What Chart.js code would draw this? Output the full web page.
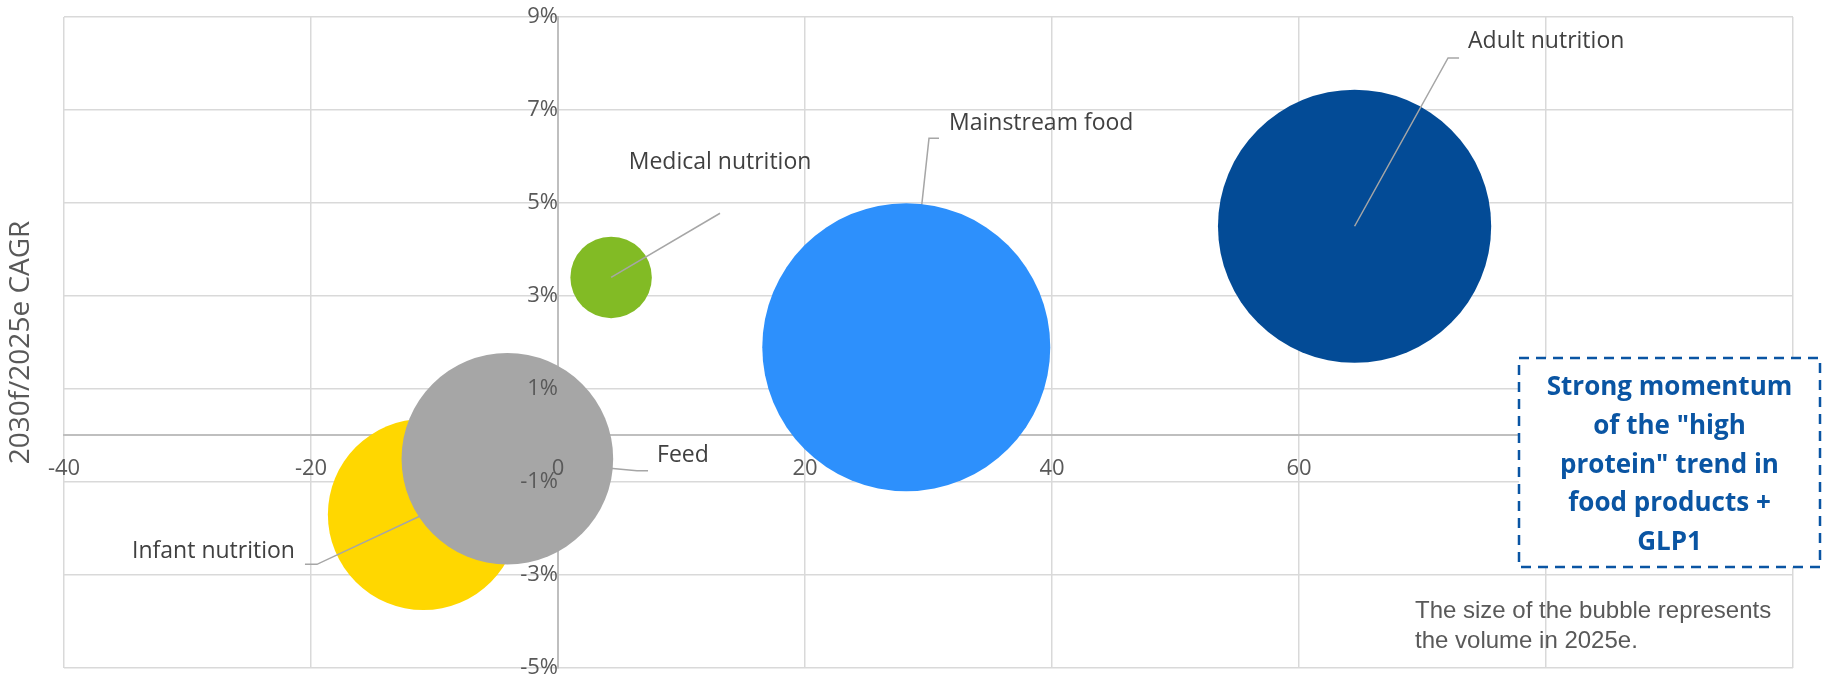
<!DOCTYPE html>
<html>
<head>
<meta charset="utf-8">
<title>2030f/2025e CAGR by segment</title>
<script src="https://cdn.jsdelivr.net/npm/chart.js@4.4.1/dist/chart.umd.min.js"></script>
<style>
  html, body { margin: 0; padding: 0; background: #fff; }
  #wrap { width: 1825px; height: 681px; position: relative; }
</style>
</head>
<body>
<div id="wrap"><canvas id="bubbleChart"></canvas></div>
<script>
// data
const categories = ["Adult nutrition", "Mainstream food", "Medical nutrition", "Feed", "Infant nutrition"];
const xValues = [64.5, 28.2, 4.3, -4.1, -10.9];
const cagrPct = [4.5, 1.9, 3.4, -0.5, -1.7];
const volume2025e = [90, 100, 8, 54, 44]; // relative, bubble area
const colors = ["#034b96", "#2d90fc", "#82bb25", "#a6a6a6", "#ffd700"];

const xTickValues = [-40, -20, 0, 20, 40, 60, 80, 100];
const yTickValues = [-5, -3, -1, 1, 3, 5, 7, 9];

const noteLines = ["Strong momentum", "of the \"high", "protein\" trend in", "food products +", "GLP1"];
const footnoteLines = ["The size of the bubble represents", "the volume in 2025e."];
const yTitle = "2030f/2025e CAGR";

const MAX_RADIUS = 144;

// leader line start (in data units) and how the label text sits next to it
const labelAnchors = [
  { x: 72.96, y: 8.12, elbow: -11, align: "left", dx: 9, dy: -16, over: true },
  { x: 30.85, y: 6.39, elbow: -10, align: "left", dx: 10, dy: -15, over: false },
  { x: 13.12, y: 4.78, elbow: 0, align: "center", dx: 0, dy: -51, over: true },
  { x: 7.29, y: -0.76, elbow: -11, align: "left", dx: 9, dy: -15, over: false },
  { x: -20.49, y: -2.77, elbow: 12, align: "right", dx: -10, dy: -13, over: true },
];

const maxVolume = Math.max(...volume2025e);

const datasets = categories.map((name, i) => ({
  label: name,
  data: [{ x: xValues[i], y: cagrPct[i], r: MAX_RADIUS * Math.sqrt(volume2025e[i] / maxVolume) }],
  backgroundColor: colors[i],
  borderWidth: 0,
  hoverBorderWidth: 0,
}));

function drawLeader(chart, index, meta) {
  const ctx = chart.ctx;
  const a = labelAnchors[index];
  const pt = meta.data[0];
  const sx = chart.scales.x.getPixelForValue(a.x);
  const sy = chart.scales.y.getPixelForValue(a.y);
  ctx.save();
  ctx.strokeStyle = "#a6a6a6";
  ctx.lineWidth = 1.5;
  ctx.beginPath();
  ctx.moveTo(sx, sy);
  ctx.lineTo(sx + a.elbow, sy);
  ctx.lineTo(pt.x, pt.y);
  ctx.stroke();
  ctx.restore();
}

const annotations = {
  id: "annotations",
  beforeDatasetDraw(chart, args) {
    if (!labelAnchors[args.index].over) drawLeader(chart, args.index, args.meta);
  },
  afterDatasetDraw(chart, args) {
    if (labelAnchors[args.index].over) drawLeader(chart, args.index, args.meta);
  },
  afterDraw(chart) {
    const ctx = chart.ctx;
    const xs = chart.scales.x;
    const ys = chart.scales.y;
    ctx.save();

    // point labels
    ctx.fillStyle = "#404040";
    ctx.font = "23px 'Open Sans'";
    ctx.textBaseline = "middle";
    categories.forEach((name, i) => {
      const a = labelAnchors[i];
      ctx.textAlign = a.align;
      ctx.fillText(name, xs.getPixelForValue(a.x) + a.dx, ys.getPixelForValue(a.y) + a.dy);
    });

    // y axis title
    ctx.save();
    ctx.translate(21, (chart.chartArea.top + chart.chartArea.bottom) / 2);
    ctx.rotate(-Math.PI / 2);
    ctx.textAlign = "center";
    ctx.fillStyle = "#595959";
    ctx.font = "28px 'Open Sans'";
    ctx.fillText(yTitle, 0, 0);
    ctx.restore();

    // dashed call-out box
    const bx = 1519, by = 358, bw = 301, bh = 209;
    ctx.fillStyle = "#ffffff";
    ctx.fillRect(bx, by, bw, bh);
    ctx.strokeStyle = "#0a55a3";
    ctx.lineWidth = 2.5;
    ctx.setLineDash([10, 7]);
    ctx.strokeRect(bx, by, bw, bh);
    ctx.setLineDash([]);
    ctx.fillStyle = "#0a55a3";
    ctx.font = "bold 26px 'Open Sans'";
    ctx.textAlign = "center";
    noteLines.forEach((line, i) => {
      ctx.fillText(line, bx + bw / 2, by + 30 + i * 38.6);
    });

    // footnote
    ctx.fillStyle = "#595959";
    ctx.font = "24px 'Liberation Sans'";
    ctx.textAlign = "left";
    ctx.textBaseline = "alphabetic";
    footnoteLines.forEach((line, i) => {
      ctx.fillText(line, 1415, 618 + i * 30);
    });

    ctx.restore();
  },
};

Chart.defaults.font.family = "'Open Sans', sans-serif";

new Chart(document.getElementById("bubbleChart"), {
  type: "bubble",
  data: { datasets },
  options: {
    responsive: true,
    maintainAspectRatio: false,
    animation: false,
    events: [],
    layout: { autoPadding: false, padding: { left: 64, right: 32, top: 17, bottom: 13 } },
    plugins: {
      legend: { display: false },
      tooltip: { enabled: false },
    },
    scales: {
      x: {
        type: "linear",
        position: { y: 0 },
        min: xTickValues[0],
        max: xTickValues[xTickValues.length - 1],
        afterBuildTicks: (axis) => {
          axis.ticks = xTickValues.map((v) => ({ value: v }));
        },
        afterFit: (axis) => {
          axis.height = 0;
          axis.paddingLeft = 0;
          axis.paddingRight = 0;
        },
        grid: { color: "#d9d9d9", lineWidth: 1.5, drawTicks: false },
        border: { color: "#bfbfbf", width: 2 },
        ticks: {
          color: "#595959",
          font: { size: 22 },
          padding: 20,
          z: 1,
          maxRotation: 0,
          autoSkip: false,
        },
      },
      y: {
        type: "linear",
        position: { x: 0 },
        min: yTickValues[0],
        max: yTickValues[yTickValues.length - 1],
        afterBuildTicks: (axis) => {
          axis.ticks = yTickValues.map((v) => ({ value: v }));
        },
        afterFit: (axis) => {
          axis.width = 0;
          axis.paddingTop = 0;
          axis.paddingBottom = 0;
        },
        grid: { color: "#d9d9d9", lineWidth: 1.5, drawTicks: false },
        border: { color: "#bfbfbf", width: 2 },
        ticks: {
          color: "#595959",
          font: { size: 22 },
          padding: 25,
          z: 1,
          autoSkip: false,
          callback: (v) => v + "%",
        },
      },
    },
  },
  plugins: [annotations],
});
</script>
</body>
</html>
